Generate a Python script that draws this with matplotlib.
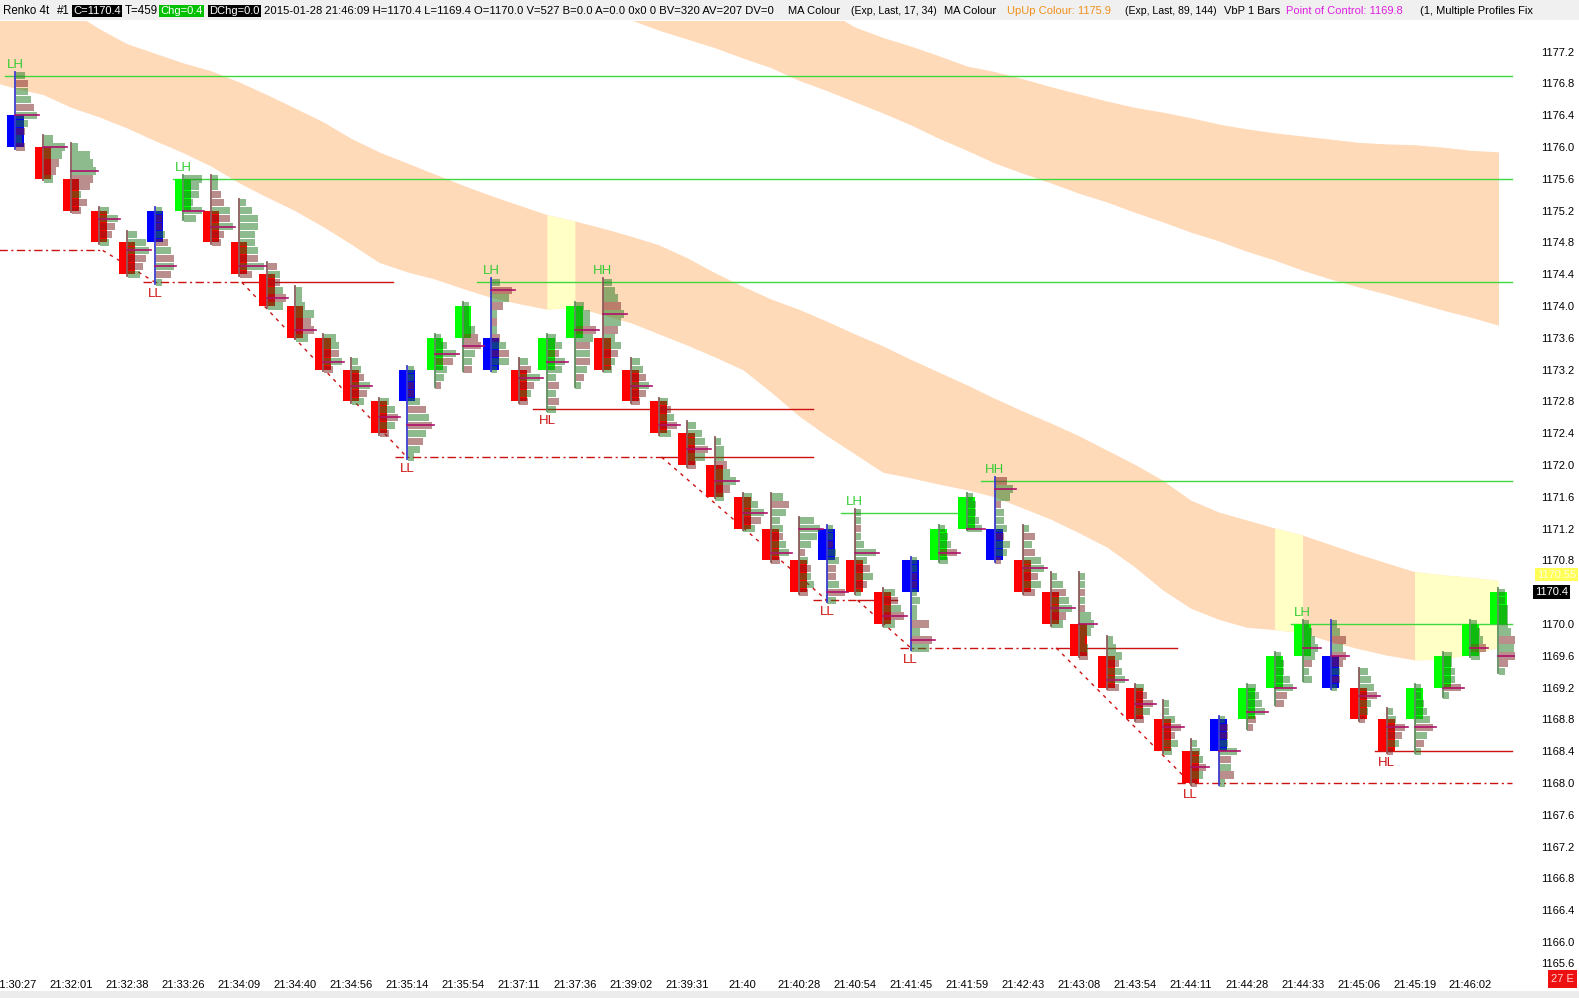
import numpy as np
import matplotlib
matplotlib.use("Agg")
import matplotlib.pyplot as plt
from matplotlib.patches import Rectangle
from matplotlib.transforms import blended_transform_factory

# ==========================================
# 1. DATOS (Renko 4t, 2015-01-28)
# ==========================================
brick_colour = list("brrrrbgrrr" "rrrrbggbrg" "grrrrrrrrb" "rrbggbrrrr" "rrrbgggbrr" "gggg")

body_low = [1176.0, 1175.6, 1175.2, 1174.8, 1174.4, 1174.8, 1175.2, 1174.8, 1174.4, 1174.0,
            1173.6, 1173.2, 1172.8, 1172.4, 1172.8, 1173.2, 1173.6, 1173.2, 1172.8, 1173.2,
            1173.6, 1173.2, 1172.8, 1172.4, 1172.0, 1171.6, 1171.2, 1170.8, 1170.4, 1170.8,
            1170.4, 1170.0, 1170.4, 1170.8, 1171.2, 1170.8, 1170.4, 1170.0, 1169.6, 1169.2,
            1168.8, 1168.4, 1168.0, 1168.4, 1168.8, 1169.2, 1169.6, 1169.2, 1168.8, 1168.4,
            1168.8, 1169.2, 1169.6, 1170.0]

bar_low = [1176.0, 1175.6, 1175.2, 1174.8, 1174.4, 1174.3, 1175.1, 1174.8, 1174.4, 1174.0,
           1173.6, 1173.2, 1172.8, 1172.4, 1172.1, 1173.0, 1173.2, 1173.2, 1172.8, 1172.7,
           1173.0, 1173.2, 1172.8, 1172.4, 1172.0, 1171.6, 1171.2, 1170.8, 1170.4, 1170.3,
           1170.4, 1170.0, 1169.7, 1170.8, 1171.2, 1170.8, 1170.4, 1170.0, 1169.6, 1169.2,
           1168.8, 1168.4, 1168.0, 1168.0, 1168.7, 1169.0, 1169.3, 1169.2, 1168.8, 1168.4,
           1168.4, 1169.1, 1169.6, 1169.4]

bar_high = [1176.9, 1176.1, 1176.0, 1175.2, 1174.9, 1175.2, 1175.6, 1175.6, 1175.3, 1174.5,
            1174.2, 1173.6, 1173.3, 1172.8, 1173.2, 1173.6, 1174.0, 1174.3, 1173.3, 1173.6,
            1174.0, 1174.3, 1173.3, 1172.8, 1172.5, 1172.3, 1171.6, 1171.6, 1171.3, 1171.2,
            1171.4, 1170.4, 1170.8, 1171.2, 1171.6, 1171.8, 1171.2, 1170.6, 1170.6, 1169.8,
            1169.2, 1169.0, 1168.5, 1168.8, 1169.2, 1169.6, 1170.0, 1170.0, 1169.4, 1168.9,
            1169.2, 1169.6, 1170.0, 1170.4]

# volumen por precio (de abajo hacia arriba, un nivel por tick): g = bid, r = ask
profiles = [
    "r3 g2 r3 g4 g7 r6 g5 g4 r4 g3", "g3 r4 r5 g6 g7 g3", "r3 r5 g3 r6 r7 g8 g7 g6 g2",
    "g3 r4 r5 g6 g3", "g4 r5 r6 g7 g6 g3", "g2 r5 g6 r6 g5 r4 g3 r2 r2 g2",
    "g4 g6 g3 g5 g5 g6", "r3 r4 g7 r6 g6 r4 r3 g2 g2", "r4 g8 r6 g6 g5 g5 g6 g6 g4 g2",
    "g5 r6 g5 r4 g4 r3", "g4 r6 r5 g6 g3 g2 g2", "r3 g6 r5 g5 g4",
    "g4 r5 g6 r4 g3 g2", "r3 g5 r6 g5 g3", "g2 g4 r5 g6 r8 g7 r6 g4 r2 r2 g2 g2",
    "r2 g3 g4 r6 g7 g4 g2", "r3 g3 g4 r6 r5 g4 g2 g2 g2", "g2 g6 r6 g5 r3 g2 r2 g2 r4 g6 r7 g3",
    "r3 g4 r5 g7 r4 g3", "g3 r4 g3 r4 g3 g5 g6 r4 g5 g3", "g2 r3 g4 r5 g5 r5 g6 r7 g5 g5 g3",
    "g3 g4 r5 g6 g4 r5 g6 g7 r6 g5 g4 g3", "r3 r5 g6 r5 g4 g3", "g4 r6 g5 r4 g3",
    "r3 g6 r7 g6 g5 g3", "g3 r5 g7 g5 r4 g3 g3 g2", "g4 r6 g7 g5 g3",
    "r3 g6 g5 r4 g4 g3 g5 r6 g4", "r3 g5 g4 r4 g3 r2 g4 g6 g7 g5", "g3 r6 g4 r3 r3 g4 g3 r2 g2 g2",
    "g2 r4 g6 r5 g4 g7 g3 g2 r2 g2 g2", "g4 r7 g6 r5 g4", "g6 r7 g3 r6 g2 g2 g3 g2 r2 r2 g2 g2",
    "g3 r6 g4 g3 g2", "g5 g4 g3 g3 g2", "r2 g4 g5 r3 g4 g3 g3 r2 g5 g6 r4",
    "r4 g6 r5 g7 g6 r4 g3 r4 g2", "g4 r5 g7 g6 r5 g4 g2", "r3 g3 g2 g4 g5 g4 r2 g2 r2 g2 g2",
    "r4 g6 g5 r4 g5 g3 g2", "r3 g5 r6 r4 g3", "g3 g5 r4 r6 g4 g2 g2",
    "r2 g4 r5 g4 g3 g2", "g2 r5 g4 r4 g6 g3 r3 r3 g2", "r2 r3 g6 g5 g4 g3",
    "r3 r4 g6 g5 g3 g3 g2", "g3 g2 r3 g4 g5 g4 g3 g2", "g2 r3 g3 r4 r5 g4 r5 g3 g2",
    "r2 g3 g4 r6 g5 g4 g3", "r2 g4 r5 r6 g3 g2", "g2 r3 g4 r6 g5 g4 g3 g2 g2",
    "g2 r6 g4 g4 g3 g3", "g3 r5 g4 g3 g2", "g2 r3 r6 g5 r6 g4 g3 g3 g3 g2 g2",
]

# bandas de medias moviles (Exp 17/34 desde la barra -1, Exp 89/144 desde la barra 20)
fast_top = [1178.38, 1178.15, 1177.94, 1177.71, 1177.49, 1177.30, 1177.18, 1177.06, 1176.96, 1176.82,
            1176.66, 1176.49, 1176.32, 1176.11, 1175.94, 1175.80, 1175.66, 1175.52, 1175.39, 1175.27,
            1175.15, 1175.07, 1174.98, 1174.88, 1174.77, 1174.61, 1174.42, 1174.25, 1174.09, 1173.96,
            1173.81, 1173.65, 1173.50, 1173.33, 1173.17, 1173.01, 1172.84, 1172.68, 1172.53, 1172.37,
            1172.19, 1172.01, 1171.81, 1171.56, 1171.41, 1171.31, 1171.21, 1171.12, 1171.00, 1170.88,
            1170.77, 1170.66, 1170.62, 1170.59, 1170.55]
fast_bottom = [1176.84, 1176.74, 1176.66, 1176.50, 1176.38, 1176.24, 1176.08, 1175.93, 1175.76, 1175.55,
               1175.37, 1175.20, 1175.00, 1174.78, 1174.55, 1174.43, 1174.34, 1174.22, 1174.11, 1174.03,
               1173.96, 1173.99, 1173.89, 1173.79, 1173.65, 1173.51, 1173.36, 1173.20, 1172.92, 1172.62,
               1172.37, 1172.14, 1171.91, 1171.84, 1171.76, 1171.69, 1171.60, 1171.46, 1171.32, 1171.15,
               1170.97, 1170.72, 1170.43, 1170.20, 1170.06, 1169.96, 1169.93, 1169.89, 1169.78, 1169.69,
               1169.61, 1169.55, 1169.56, 1169.62, 1169.71]
slow_top = [1178.86, 1178.73, 1178.61, 1178.48, 1178.35, 1178.23, 1178.10, 1177.98, 1177.85, 1177.72,
            1177.51, 1177.38, 1177.27, 1177.15, 1177.02, 1176.95, 1176.86, 1176.76, 1176.67, 1176.58,
            1176.50, 1176.44, 1176.37, 1176.29, 1176.23, 1176.18, 1176.14, 1176.10, 1176.06, 1176.04,
            1176.03, 1176.00, 1175.96, 1175.94]
slow_bottom = [1177.83, 1177.71, 1177.60, 1177.47, 1177.36, 1177.25, 1177.12, 1177.00, 1176.84, 1176.71,
               1176.57, 1176.43, 1176.28, 1176.11, 1175.96, 1175.80, 1175.67, 1175.55, 1175.42, 1175.31,
               1175.18, 1175.06, 1174.93, 1174.82, 1174.69, 1174.58, 1174.45, 1174.34, 1174.24, 1174.15,
               1174.05, 1173.95, 1173.86, 1173.76]
upup_spans = [(19, 20), (45, 46), (50, 53)]

# maximos / minimos de swing
hi_start = [-0.36, 5.65, 16.5, 29.5, 34.5, 45.6]
hi_end = [53.5, 53.5, 53.5, 34.2, 53.5, 53.5]
hi_price = [1176.9, 1175.6, 1174.3, 1171.4, 1171.8, 1170.0]
hi_labels = [(0, 1176.9, 'LH'), (6, 1175.6, 'LH'), (17, 1174.3, 'LH'), (21, 1174.3, 'HH'),
             (30, 1171.4, 'LH'), (35, 1171.8, 'HH'), (46, 1170.0, 'LH')]
lo_labels = [(5, 1174.3, 'LL'), (14, 1172.1, 'LL'), (19, 1172.7, 'HL'), (29, 1170.3, 'LL'),
             (32, 1169.7, 'LL'), (42, 1168.0, 'LL'), (49, 1168.4, 'HL')]
# segmentos rojos: x0, x1, p0, p1, estilo
lo_segments = [
    (-0.6, 3.13, 1174.7, 1174.7, 'dd'), (3.13, 5.0, 1174.7, 1174.3, 'd'),
    (4.57, 8.1, 1174.3, 1174.3, 'dd'), (8.1, 13.5, 1174.3, 1174.3, 's'),
    (8.1, 14.0, 1174.3, 1172.1, 'd'), (13.56, 23.1, 1172.1, 1172.1, 'dd'),
    (23.1, 28.5, 1172.1, 1172.1, 's'), (23.1, 29.0, 1172.1, 1170.3, 'd'),
    (18.5, 28.5, 1172.7, 1172.7, 's'), (28.5, 30.1, 1170.3, 1170.3, 'dd'),
    (30.1, 31.5, 1170.3, 1170.3, 's'), (30.1, 32.0, 1170.3, 1169.7, 'd'),
    (31.6, 37.2, 1169.7, 1169.7, 'dd'), (37.2, 41.5, 1169.7, 1169.7, 's'),
    (37.2, 42.0, 1169.7, 1168.0, 'd'), (41.5, 53.5, 1168.0, 1168.0, 'dd'),
    (48.6, 53.5, 1168.4, 1168.4, 's'),
]

time_labels = ["21:30:27", "21:32:01", "21:32:38", "21:33:26", "21:34:09", "21:34:40", "21:34:56",
               "21:35:14", "21:35:54", "21:37:11", "21:37:36", "21:39:02", "21:39:31", "21:40",
               "21:40:28", "21:40:54", "21:41:45", "21:41:59", "21:42:43", "21:43:08", "21:43:54",
               "21:44:11", "21:44:28", "21:44:33", "21:45:06", "21:45:19", "21:46:02"]

# ==========================================
# 2. FIGURA
# ==========================================
W, H = 1579, 998
FONT = 'Liberation Sans'
fig = plt.figure(figsize=(W / 100, H / 100), dpi=100)
fig.patch.set_facecolor('white')


def fx(px):
    return px / W


def fy(py):
    return 1 - py / H


ax = fig.add_axes([0, fy(975), fx(1515), fy(21) - fy(975)])
ax.set_xlim(-0.54, 53.59)
ax.set_ylim(1165.586, 1177.586)
for s in ax.spines.values():
    s.set_visible(False)

# bandas
peach = '#ffdab9'
yellow = '#ffffc6'
xf = np.arange(-1, 54)
ax.fill_between(xf, fast_bottom, fast_top, color=peach, lw=0, zorder=1)
for a, b in upup_spans:
    m = (xf >= a) & (xf <= b)
    ax.fill_between(xf[m], np.array(fast_bottom)[m], np.array(fast_top)[m], color=yellow, lw=0, zorder=1.1)
xs = np.arange(20, 54)
ax.fill_between(xs, slow_bottom, slow_top, color=peach, lw=0, zorder=1)

# lineas de swing
for x0, x1, p in zip(hi_start, hi_end, hi_price):
    ax.plot([x0, x1], [p, p], color='#3ed83e', lw=1.0, zorder=2)
styles = {'dd': (0, (6, 2.5, 1.5, 2.5)), 'd': (0, (2.5, 3.5)), 's': '-'}
for x0, x1, p0, p1, st in lo_segments:
    ax.plot([x0, x1], [p0, p1], color='#cc1111', lw=1.0, linestyle=styles[st], zorder=2)

for i, p, t in hi_labels:
    ax.text(i, p + 0.06, t, color='#33cc33', fontsize=9.5, family=FONT, ha='center', va='bottom', zorder=6)
for i, p, t in lo_labels:
    ax.text(i, p - 0.07, t, color='#cc1111', fontsize=9.5, family=FONT, ha='center', va='top', zorder=6)

# ladrillos renko + perfiles de volumen
body_col = {'r': '#ff0000', 'g': '#00ff00', 'b': '#0000ff'}
wick_col = {'r': '#8c5a5a', 'g': '#5f8f5f', 'b': '#3a3ad0'}
vol_col = {'g': (31 / 255, 121 / 255, 31 / 255), 'r': (121 / 255, 31 / 255, 31 / 255)}
unit = 3 / 27.99
for i, c in enumerate(brick_colour):
    ax.add_patch(Rectangle((i - 0.3, body_low[i]), 0.6, 0.4, facecolor=body_col[c], edgecolor='none', zorder=3))
    toks = profiles[i].split()
    widths = [int(t[1:]) for t in toks]
    for k, t in enumerate(toks):
        p = bar_low[i] + 0.1 * k
        ax.add_patch(Rectangle((i + 0.02, p - 0.046), widths[k] * unit, 0.092,
                               facecolor=vol_col[t[0]], alpha=0.5, edgecolor='none', zorder=4))
    ax.plot([i, i], [bar_low[i] - 0.02, bar_high[i] + 0.05], color=wick_col[c], lw=1.3, zorder=4.5)
    kpoc = int(np.argmax(widths))
    ppoc = bar_low[i] + 0.1 * kpoc
    ax.plot([i, i + (widths[kpoc] + 1) * unit], [ppoc, ppoc], color='#b0106a', lw=1.2, zorder=5)

# ejes
price_ticks = np.round(np.arange(1166.0, 1177.25, 0.4), 1)
ax.yaxis.tick_right()
ax.set_yticks(price_ticks)
# la etiqueta 1170.4 queda tapada por la caja del ultimo precio
ax.set_yticklabels(["" if abs(v - 1170.4) < 0.01 else f"{v:.1f}" for v in price_ticks], family=FONT, fontsize=8)
ax.tick_params(axis='y', length=0, pad=18.5)
ax.set_xticks(np.arange(0, 54, 2))
ax.set_xticklabels(time_labels, family=FONT, fontsize=8)
ax.tick_params(axis='x', length=0, pad=3.5)
fig.text(fx(1541), fy(964), "1165.6", fontsize=8, family=FONT, ha='left', va='center')

# etiquetas de precio actuales
tr = blended_transform_factory(ax.transAxes, ax.transData)
ax.text(1 + 22 / 1515, 1170.62, "1170.55", transform=tr, fontsize=8, family=FONT, color='#ffffe0',
        va='center', ha='left', zorder=7, bbox=dict(facecolor='#ffff55', edgecolor='none', pad=1.2))
ax.text(1 + 20 / 1515, 1170.4, "1170.4", transform=tr, fontsize=8, family=FONT, color='white',
        va='center', ha='left', zorder=8, bbox=dict(facecolor='black', edgecolor='none', pad=1.5))

# franjas superior / inferior
fig.add_artist(Rectangle((0, fy(20)), 1, 20 / H, transform=fig.transFigure, facecolor='#f0f0f0',
                         edgecolor='none', zorder=0))
fig.add_artist(Rectangle((0, 0), 1, 7 / H, transform=fig.transFigure, facecolor='#ececec',
                         edgecolor='none', zorder=10))
fig.add_artist(Rectangle((fx(1548), fy(988)), fx(29), 18 / H, transform=fig.transFigure, facecolor='#ee1111',
                         edgecolor='none', zorder=11))
fig.text(fx(1562), fy(979), "27 E", color='#ffd0d0', fontsize=8, family=FONT, ha='center', va='center', zorder=12)

# cabecera
hy = fy(11)
hdr = [
    (3, "Renko 4t", 'black', None, 8.3), (57, "#1", 'black', None, 8.3),
    (73, "C=1170.4", 'white', 'black', 8.0), (125, "T=459", 'black', None, 8.3),
    (160, "Chg=0.4", 'white', '#00c000', 8.0), (209, "DChg=0.0", 'white', 'black', 8.0),
    (264, "2015-01-28 21:46:09 H=1170.4 L=1169.4 O=1170.0 V=527 B=0.0 A=0.0 0x0 0 BV=320 AV=207 DV=0",
     'black', None, 8.1),
    (788, "MA Colour", 'black', None, 8.0), (851, "(Exp, Last, 17, 34)", 'black', None, 7.6),
    (944, "MA Colour", 'black', None, 8.0), (1007, "UpUp Colour: 1175.9", '#f0901c', None, 8.0),
    (1125, "(Exp, Last, 89, 144)", 'black', None, 7.6), (1224, "VbP 1 Bars", 'black', None, 8.0),
    (1286, "Point of Control: 1169.8", '#e020e0', None, 8.0),
    (1420, "(1, Multiple Profiles Fix", 'black', None, 8.0),
]
for x, t, col, bg, fs in hdr:
    kw = {}
    if bg:
        kw['bbox'] = dict(facecolor=bg, edgecolor='none', pad=1.0)
    fig.text(fx(x), hy, t, color=col, fontsize=fs, family=FONT, ha='left', va='center', zorder=12, **kw)

fig.savefig('out.png', dpi=100)
